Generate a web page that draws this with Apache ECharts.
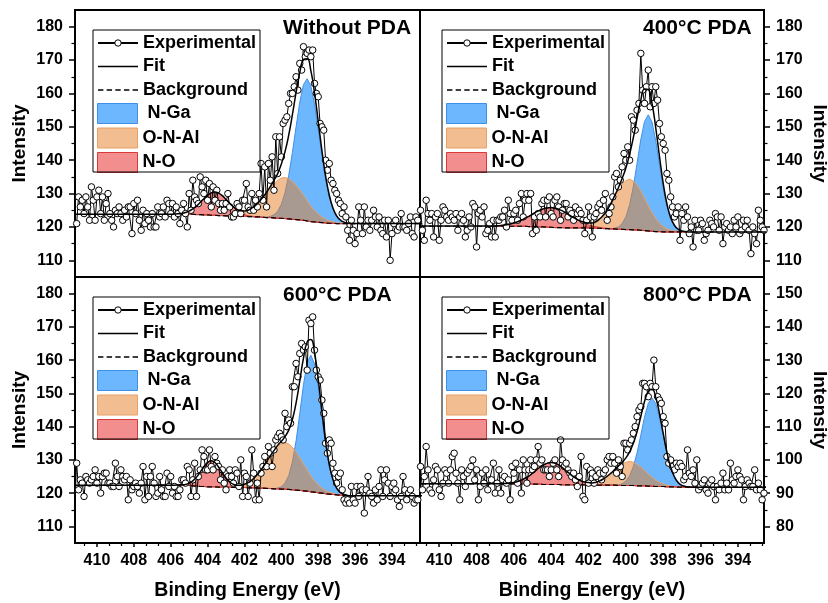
<!DOCTYPE html>
<html><head><meta charset="utf-8">
<script src="https://cdn.jsdelivr.net/npm/echarts@6/dist/echarts.min.js"></script>
<style>html,body{margin:0;padding:0;background:#fff}#c{width:828px;height:603px}</style>
</head><body><div id="c"></div>
<script>
// ---------------- DATA ----------------
const panelTitles = ['Without PDA', '400\u00B0C PDA', '600\u00B0C PDA', '800\u00B0C PDA'];
const legendLineNames = ['Experimental', 'Fit', 'Background'];
const legendAreaNames = [' N-Ga', 'O-N-Al', 'N-O'];
const xTicks = [410, 408, 406, 404, 402, 400, 398, 396, 394];
const xMinorTicks = [410.67, 409.33, 408.67, 407.33, 406.67, 405.33, 404.67, 403.33, 402.67, 401.33, 400.67, 399.33, 398.67, 397.33, 396.67, 395.33, 394.67, 393.33, 392.67];
const yTicksA = [110, 120, 130, 140, 150, 160, 170, 180];
const yMinorA = [115, 125, 135, 145, 155, 165, 175];
const yTicksB = [80, 90, 100, 110, 120, 130, 140, 150];
const yMinorB = [85, 95, 105, 115, 125, 135, 145];

// experimental energies: 411.2 eV downwards, 0.1 eV steps
const EXP_START = 411.2, EXP_STEP = 0.1;
// fit-model energies: 407.0 eV downwards, 0.2 eV steps
const MOD_START = 407.0, MOD_STEP = 0.2;

const exp1 = [123,121,129,126,128,124,129,126,122,132,128,122,129,131,124,129,122,127,130,124,
122,120,125,124,126,124,122,125,123,126,126,118,127,124,128,122,119,125,121,124,
122,120,124,120,120,126,123,124,126,123,128,127,124,127,123,126,124,121,125,127,
124,120,130,125,134,129,128,127,135,132,130,134,128,133,126,132,128,131,127,125,
127,125,127,130,126,123,123,124,127,126,124,128,128,133,126,125,130,125,128,126,
130,139,128,138,126,139,134,141,131,147,136,147,141,151,152,153,157,160,160,162,
165,161,169,167,174,171,172,173,171,173,163,160,159,151,150,149,140,137,139,134,
133,131,130,128,127,124,126,123,119,116,122,119,115,118,126,122,118,126,120,122,
119,122,125,123,120,123,119,118,122,117,122,110,118,121,122,119,120,124,120,120,
119,121,123,118,117,123,122];
const exp2 = [120,118,125,119,116,128,124,122,124,117,123,124,116,122,126,125,123,122,124,123,
122,124,119,123,124,122,117,119,123,120,127,126,114,124,125,123,126,118,119,121,
117,122,117,122,122,123,123,125,120,128,124,122,124,125,122,127,130,123,128,130,
128,130,118,123,119,124,123,127,128,123,128,129,124,123,128,129,126,122,125,127,
127,123,125,124,122,126,124,125,124,122,118,122,126,123,117,123,124,126,127,125,
128,130,122,124,126,129,135,136,132,134,138,142,140,144,140,153,152,149,155,157,
172,161,157,162,167,156,162,157,162,158,151,147,145,143,136,134,129,126,123,124,
126,116,124,122,126,123,118,120,114,122,119,119,122,121,116,118,119,122,121,120,
124,123,119,123,115,120,121,119,120,118,122,120,123,118,119,122,120,122,119,112,
120,118,115,125,122,120,119];
const exp3 = [117,129,121,124,123,119,125,124,123,124,125,127,123,125,120,125,126,126,123,123,
122,122,129,125,122,127,125,124,125,118,124,121,122,123,122,120,123,128,118,125,
119,125,128,123,119,120,125,121,119,119,126,122,125,120,122,119,119,121,124,124,
123,128,127,119,124,129,119,125,127,133,131,127,127,133,128,127,131,129,128,124,
127,123,121,125,127,125,123,127,126,122,130,119,126,125,119,123,133,126,118,123,
118,126,128,131,128,134,132,128,133,136,137,138,137,136,144,140,142,141,152,152,
159,155,162,165,163,164,157,172,171,173,163,157,155,154,148,144,135,132,136,135,
129,126,123,125,126,121,118,117,118,117,122,118,117,122,119,122,121,114,121,125,
120,119,117,121,118,122,127,119,124,127,123,119,122,123,121,118,116,119,125,121,
118,120,121,119,117,118,118];
const exp4 = [93,92,98,91,95,104,97,91,90,94,98,97,91,89,93,97,96,93,97,101,
102,96,93,88,97,95,92,96,97,98,100,94,97,88,92,96,93,97,91,94,
94,99,90,93,97,90,94,95,93,94,88,98,96,99,93,97,90,100,97,93,
97,100,97,98,100,104,99,100,97,97,97,95,97,99,100,97,95,106,100,98,
99,97,96,95,96,94,92,95,101,89,88,98,93,97,96,93,95,97,96,94,
96,97,100,101,99,101,99,96,100,98,95,105,105,103,105,106,108,110,113,115,
116,123,123,122,119,123,122,130,122,119,118,117,113,111,101,99,100,98,97,99,
98,99,98,94,95,103,96,95,97,93,100,91,92,93,94,91,90,93,94,92,
88,92,91,93,96,91,93,91,99,94,93,95,97,95,94,88,92,94,93,92,
92,97,91,93,91,88,90];

// background + fitted components (height above background) on the model grid
const bg1 = [123.8,123.8,123.8,123.8,123.8, 123.8,123.8,123.8,123.8,123.8, 123.8,123.8,123.7,123.7,123.6, 123.6,123.5,123.5,123.4,123.4, 123.3,123.3,123.3,123.2,123.2, 123.2,123.1,123.1,123.0,123.0, 122.9,122.8,122.8,122.7,122.6, 122.6,122.5,122.4,122.3,122.2, 122.1,122.0,121.8,121.6,121.5, 121.4,121.3,121.2,121.1,121.1, 121.0,121.0,121.0,121.0,121.0, 121.0];
const no1 = [0,0,0,0,0, 0.02,0.05,0.12,0.26,0.51, 0.95,1.61,2.52,3.64,4.85, 5.94,6.72,7.0,6.72,5.94, 4.85,3.64,2.52,1.61,0.95, 0.51,0.26,0.12,0.05,0.02, 0,0,0,0,0, 0,0,0,0,0, 0,0,0,0,0, 0,0,0,0,0, 0,0,0,0,0, 0];
const onal1 = [0,0,0,0,0, 0,0,0,0,0, 0,0,0,0,0, 0,0,0,0,0.03, 0.07,0.14,0.25,0.42,0.69, 1.09,1.66,2.44,3.42,4.61, 5.99,7.47,8.93,10.27,11.35, 12.05,12.3,12.05,11.35,10.27, 8.93,7.47,5.99,4.61,3.42, 2.44,1.66,1.09,0.69,0.42, 0.25,0.14,0.07,0.03,0.01, 0];
const nga1 = [0,0,0,0,0, 0,0,0,0,0, 0,0,0,0,0, 0,0,0,0,0, 0,0,0,0,0, 0,0,0,0,0, 0,0.13,0.37,0.94,2.04, 4.17,7.75,13.04,19.98,27.82, 35.27,40.64,42.6,40.64,35.27, 27.82,19.98,13.04,7.75,4.17, 2.04,0.94,0.37,0.13,0.04, 0.01];

const bg2 = [120.2,120.2,120.2,120.2,120.2, 120.2,120.2,120.2,120.2,120.1, 120.1,120.1,120.0,120.0,119.9, 119.9,119.8,119.8,119.8,119.7, 119.7,119.7,119.7,119.7,119.7, 119.7,119.6,119.6,119.6,119.5, 119.5,119.4,119.4,119.3,119.3, 119.2,119.2,119.1,119.1,119.0, 118.9,118.8,118.7,118.6,118.6, 118.5,118.5,118.5,118.5,118.5, 118.5,118.5,118.5,118.5,118.5, 118.5];
const no2 = [0.10,0.17,0.28,0.43,0.65, 0.96,1.36,1.85,2.42,3.07, 3.75,4.41,5.01,5.49,5.79, 5.9,5.79,5.49,5.01,4.41, 3.75,3.07,2.42,1.85,1.36, 0.96,0.65,0.43,0.28,0.17, 0.10,0.06,0.03,0,0, 0,0,0,0,0, 0,0,0,0,0, 0,0,0,0,0, 0,0,0,0,0, 0];
const onal2 = [0,0,0,0,0, 0,0,0,0,0, 0,0,0,0,0, 0,0,0,0,0, 0,0.03,0.06,0.14,0.29, 0.53,0.95,1.60,2.57,3.90, 5.57,7.57,9.69,11.78,13.51, 14.69,15.1,14.69,13.51,11.78, 9.69,7.57,5.57,3.90,2.57, 1.60,0.95,0.53,0.29,0.14, 0.06,0.03,0,0,0, 0];
const nga2 = [0,0,0,0,0, 0,0,0,0,0, 0,0,0,0,0, 0,0,0,0,0, 0,0,0,0,0, 0,0,0,0,0, 0,0.07,0.24,0.68,1.71, 3.79,7.48,12.98,19.98,27.21, 32.71,34.8,32.71,27.21,19.98, 12.98,7.48,3.79,1.71,0.68, 0.24,0.07,0,0,0, 0];

const bg3 = [122.4,122.4,122.4,122.4,122.4, 122.4,122.4,122.4,122.4,122.3, 122.3,122.2,122.1,122.0,122.0, 121.9,121.9,121.9,121.8,121.8, 121.8,121.8,121.7,121.7,121.7, 121.7,121.6,121.6,121.6,121.5, 121.5,121.4,121.4,121.3,121.3, 121.2,121.2,121.1,121.0,120.9, 120.8,120.7,120.6,120.4,120.3, 120.1,120.0,119.8,119.7,119.6, 119.5,119.4,119.3,119.2,119.2, 119.2];
const no3 = [0,0,0,0,0, 0,0,0.04,0.11,0.30, 0.73,1.50,2.71,4.30,5.99, 7.30,7.8,7.30,5.99,4.30, 2.71,1.50,0.73,0.30,0.11, 0.04,0,0,0,0, 0,0,0,0,0, 0,0,0,0,0, 0,0,0,0,0, 0,0,0,0,0, 0,0,0,0,0, 0];
const onal3 = [0,0,0,0,0, 0,0,0,0,0, 0,0,0,0,0, 0,0,0,0,0.02, 0.05,0.10,0.18,0.34,0.57, 0.95,1.53,2.32,3.39,4.73, 6.30,8.04,9.81,11.47,12.81, 13.69,14,13.69,12.81,11.47, 9.81,8.04,6.30,4.73,3.39, 2.32,1.53,0.95,0.57,0.34, 0.18,0.10,0.05,0.02,0, 0];
const nga3 = [0,0,0,0,0, 0,0,0,0,0, 0,0,0,0,0, 0,0,0,0,0, 0,0,0,0,0, 0,0,0,0,0, 0,0,0,0,0.25, 0.70,1.81,4.15,8.34,14.80, 23.14,31.85,38.55,41.1,38.55, 31.85,23.14,14.80,8.34,4.15, 1.81,0.70,0.25,0.08,0.02, 0];

const bg4 = [92.8,92.8,92.8,92.8,92.8, 92.8,92.8,92.8,92.8,92.7, 92.7,92.7,92.7,92.6,92.6, 92.6,92.6,92.6,92.5,92.5, 92.5,92.5,92.5,92.5,92.5, 92.5,92.4,92.4,92.4,92.4, 92.4,92.4,92.4,92.3,92.3, 92.3,92.3,92.3,92.2,92.2, 92.2,92.1,92.1,92.0,92.0, 92.0,91.9,91.9,91.9,91.8, 91.8,91.8,91.8,91.8,91.8, 91.8];
const no4 = [0.01,0.03,0.06,0.13,0.23, 0.42,0.70,1.12,1.70,2.44, 3.31,4.24,5.15,5.91,6.42, 6.6,6.42,5.91,5.15,4.24, 3.31,2.44,1.70,1.12,0.70, 0.42,0.23,0.13,0.06,0.03, 0.01,0,0,0,0, 0,0,0,0,0, 0,0,0,0,0, 0,0,0,0,0, 0,0,0,0,0, 0];
const onal4 = [0,0,0,0,0, 0,0,0,0,0, 0,0,0,0,0, 0,0,0,0,0, 0,0,0.03,0.07,0.14, 0.25,0.45,0.76,1.22,1.86, 2.66,3.61,4.62,5.62,6.44, 7.01,7.2,7.01,6.44,5.62, 4.62,3.61,2.66,1.86,1.22, 0.76,0.45,0.25,0.14,0.07, 0.03,0,0,0,0, 0];
const nga4 = [0,0,0,0,0, 0,0,0,0,0, 0,0,0,0,0, 0,0,0,0,0, 0,0,0,0,0, 0,0,0,0,0, 0,0,0.05,0.18,0.52, 1.30,2.89,5.70,9.88,15.21, 20.72,24.91,26.5,24.91,20.72, 15.21,9.88,5.70,2.89,1.30, 0.52,0.18,0.05,0,0, 0];

// ---------------- LAYOUT / STYLE ----------------
const FONT = 'Liberation Sans';
const gridBoxes = [
  {left: 75, top: 10, width: 345, height: 267},
  {left: 420, top: 10, width: 344, height: 267},
  {left: 75, top: 277, width: 345, height: 266},
  {left: 420, top: 277, width: 344, height: 266}
];
const xRanges = [[392.48, 411.19], [392.6, 411.03], [392.48, 411.19], [392.6, 411.03]];
const yRanges = [[105, 185], [105, 185], [105, 185], [75, 155]];
const legendBoxes = [[93, 30], [442, 30], [93, 297], [442, 297]];
const titlePos = [[283, 18], [643, 18], [283, 285], [643, 285]];

const FILL = {nga: 'rgba(30,144,255,0.65)', onal: 'rgba(230,125,35,0.5)', no: 'rgba(230,30,30,0.5)'};
const EDGE = {nga: '#3f8fe6', onal: '#e8a064', no: '#d83a3a'};

const panels = [
  {exp: exp1, bg: bg1, nga: nga1, onal: onal1, no: no1},
  {exp: exp2, bg: bg2, nga: nga2, onal: onal2, no: no2},
  {exp: exp3, bg: bg3, nga: nga3, onal: onal3, no: no3},
  {exp: exp4, bg: bg4, nga: nga4, onal: onal4, no: no4}
];

const expE = exp1.map((_, i) => +(EXP_START - EXP_STEP * i).toFixed(1));
const modE = bg1.map((_, i) => +(MOD_START - MOD_STEP * i).toFixed(1));

const txt = (size) => ({fontFamily: FONT, fontWeight: 'bold', fontSize: size, color: '#000'});

const grid = [], xAxis = [], yAxis = [], series = [], legend = [], title = [], graphic = [];

for (let g = 0; g < 4; g++) {
  const isBottom = g >= 2, isLeft = g % 2 === 0;
  grid.push(Object.assign({show: true, borderColor: '#000', borderWidth: 2, backgroundColor: 'transparent', containLabel: false, outerBoundsMode: 'none'}, gridBoxes[g]));

  xAxis.push({
    gridIndex: g, type: 'value', position: 'bottom', inverse: true, min: xRanges[g][0], max: xRanges[g][1],
    axisLine: {show: true, onZero: false, lineStyle: {color: '#000', width: 2}},
    axisTick: {show: isBottom, inside: false, length: 4, customValues: xTicks, lineStyle: {color: '#000', width: 1.5}},
    axisLabel: {show: isBottom, customValues: xTicks, margin: 10, ...txt(16)},
    splitLine: {show: false},
    name: isBottom ? 'Binding Energy (eV)' : '', nameLocation: 'middle', nameGap: 38, nameTextStyle: txt(19.5)
  });
  yAxis.push({
    gridIndex: g, type: 'value', position: isLeft ? 'left' : 'right', min: yRanges[g][0], max: yRanges[g][1],
    axisLine: {show: true, onZero: false, lineStyle: {color: '#000', width: 2}},
    axisTick: {show: true, inside: false, length: 6, customValues: g === 3 ? yTicksB : yTicksA, lineStyle: {color: '#000', width: 1.5}},
    axisLabel: {customValues: g === 3 ? yTicksB : yTicksA, margin: 12, ...txt(16)},
    splitLine: {show: false},
    name: 'Intensity', nameLocation: 'middle', nameGap: 46, nameRotate: isLeft ? 90 : -90, nameTextStyle: txt(19)
  });

  const p = panels[g];
  // fitted component: filled band between background and background + component (drawn through the axes' scales)
  const addComp = (key, name) => {
    const comp = p[key], bg = p.bg;
    series.push({
      type: 'custom', name: name, xAxisIndex: g, yAxisIndex: g, coordinateSystem: 'cartesian2d',
      dimensions: ['x', 'y'], encode: {x: 0, y: 1}, data: [[modE[0], bg[0]]], clip: true, silent: true, z: 2,
      itemStyle: {color: FILL[key]},
      renderItem: (params, api) => {
        const top = modE.map((e, i) => api.coord([e, bg[i] + comp[i]]));
        const bot = modE.map((e, i) => api.coord([e, bg[i]])).reverse();
        return {type: 'polygon', shape: {points: top.concat(bot)}, style: {fill: FILL[key], stroke: EDGE[key], lineWidth: 1}};
      }
    });
  };
  addComp('nga', legendAreaNames[0]);
  addComp('onal', legendAreaNames[1]);
  addComp('no', legendAreaNames[2]);

  const last = modE.length - 1;
  const fitVals = modE.map((e, i) => +(p.bg[i] + p.nga[i] + p.onal[i] + p.no[i]).toFixed(2));
  const bgLine = [[411.4, p.bg[0]]].concat(modE.map((e, i) => [e, p.bg[i]]), [[392.3, p.bg[last]]]);
  const fitLine = [[411.4, fitVals[0]]].concat(modE.map((e, i) => [e, fitVals[i]]), [[392.3, fitVals[last]]]);

  series.push({type: 'line', name: 'Background', xAxisIndex: g, yAxisIndex: g, data: bgLine, symbol: 'none', silent: true,
    itemStyle: {color: '#000'}, lineStyle: {color: '#000', width: 1.2, type: [5, 3]}, z: 3});
  series.push({type: 'line', name: 'Experimental', xAxisIndex: g, yAxisIndex: g, data: expE.map((e, i) => [e, p.exp[i]]),
    symbol: 'circle', symbolSize: 6.5, silent: true,
    itemStyle: {color: '#fff', borderColor: '#000', borderWidth: 1},
    lineStyle: {color: '#000', width: 1}, z: 4});
  series.push({type: 'line', name: 'Fit', xAxisIndex: g, yAxisIndex: g, data: fitLine, symbol: 'none', smooth: true, silent: true,
    itemStyle: {color: '#000'}, lineStyle: {color: '#000', width: 1.5}, z: 5});

  const [bx, by] = legendBoxes[g];
  graphic.push({type: 'rect', shape: {x: bx, y: by, width: 167, height: 142}, style: {fill: 'none', stroke: '#000', lineWidth: 1}, z: 10, silent: true});
  legend.push({
    orient: 'vertical', left: bx + 4, top: by + 4, padding: 0, itemGap: 5.5, itemWidth: 40, itemHeight: 8,
    selectedMode: false, textStyle: txt(18), itemStyle: {borderWidth: 1},
    data: [
      {name: legendLineNames[0]},
      {name: legendLineNames[1], icon: 'path://M0,0H40V1.5H0Z', itemStyle: {color: '#000', borderWidth: 0}},
      {name: legendLineNames[2], icon: 'path://M0,0H5V1.4H0Z M8,0H13V1.4H8Z M16,0H21V1.4H16Z M24,0H29V1.4H24Z M32,0H37V1.4H32Z', itemStyle: {color: '#000', borderWidth: 0}}
    ]
  });
  legend.push({
    orient: 'vertical', left: bx + 4, top: by + 73, padding: 0, itemGap: 3.5, itemWidth: 40, itemHeight: 20,
    selectedMode: false, textStyle: txt(18),
    data: [
      {name: legendAreaNames[0], icon: 'rect', itemStyle: {color: FILL.nga, borderColor: EDGE.nga, borderWidth: 1}},
      {name: legendAreaNames[1], icon: 'rect', itemStyle: {color: FILL.onal, borderColor: EDGE.onal, borderWidth: 1}},
      {name: legendAreaNames[2], icon: 'rect', itemStyle: {color: FILL.no, borderColor: EDGE.no, borderWidth: 1}}
    ]
  });
  title.push({text: panelTitles[g], left: titlePos[g][0], top: titlePos[g][1], padding: 0, textStyle: txt(21)});
}

// minor ticks (second set of axes, ticks only)
for (let g = 0; g < 4; g++) {
  const isBottom = g >= 2, isLeft = g % 2 === 0;
  xAxis.push({gridIndex: g, type: 'value', position: 'bottom', inverse: true, min: xRanges[g][0], max: xRanges[g][1],
    axisLine: {show: false}, axisLabel: {show: false}, splitLine: {show: false},
    axisTick: {show: isBottom, inside: false, length: 3, customValues: xMinorTicks, lineStyle: {color: '#000', width: 1.2}}});
  yAxis.push({gridIndex: g, type: 'value', position: isLeft ? 'left' : 'right', min: yRanges[g][0], max: yRanges[g][1],
    axisLine: {show: false}, axisLabel: {show: false}, splitLine: {show: false},
    axisTick: {show: true, inside: false, length: 3.5, customValues: g === 3 ? yMinorB : yMinorA, lineStyle: {color: '#000', width: 1.2}}});
}

const chart = echarts.init(document.getElementById('c'), null, {renderer: 'canvas', width: 828, height: 603});
chart.setOption({animation: false, backgroundColor: '#fff', grid, xAxis, yAxis, series, legend, title, graphic});
</script></body></html>
